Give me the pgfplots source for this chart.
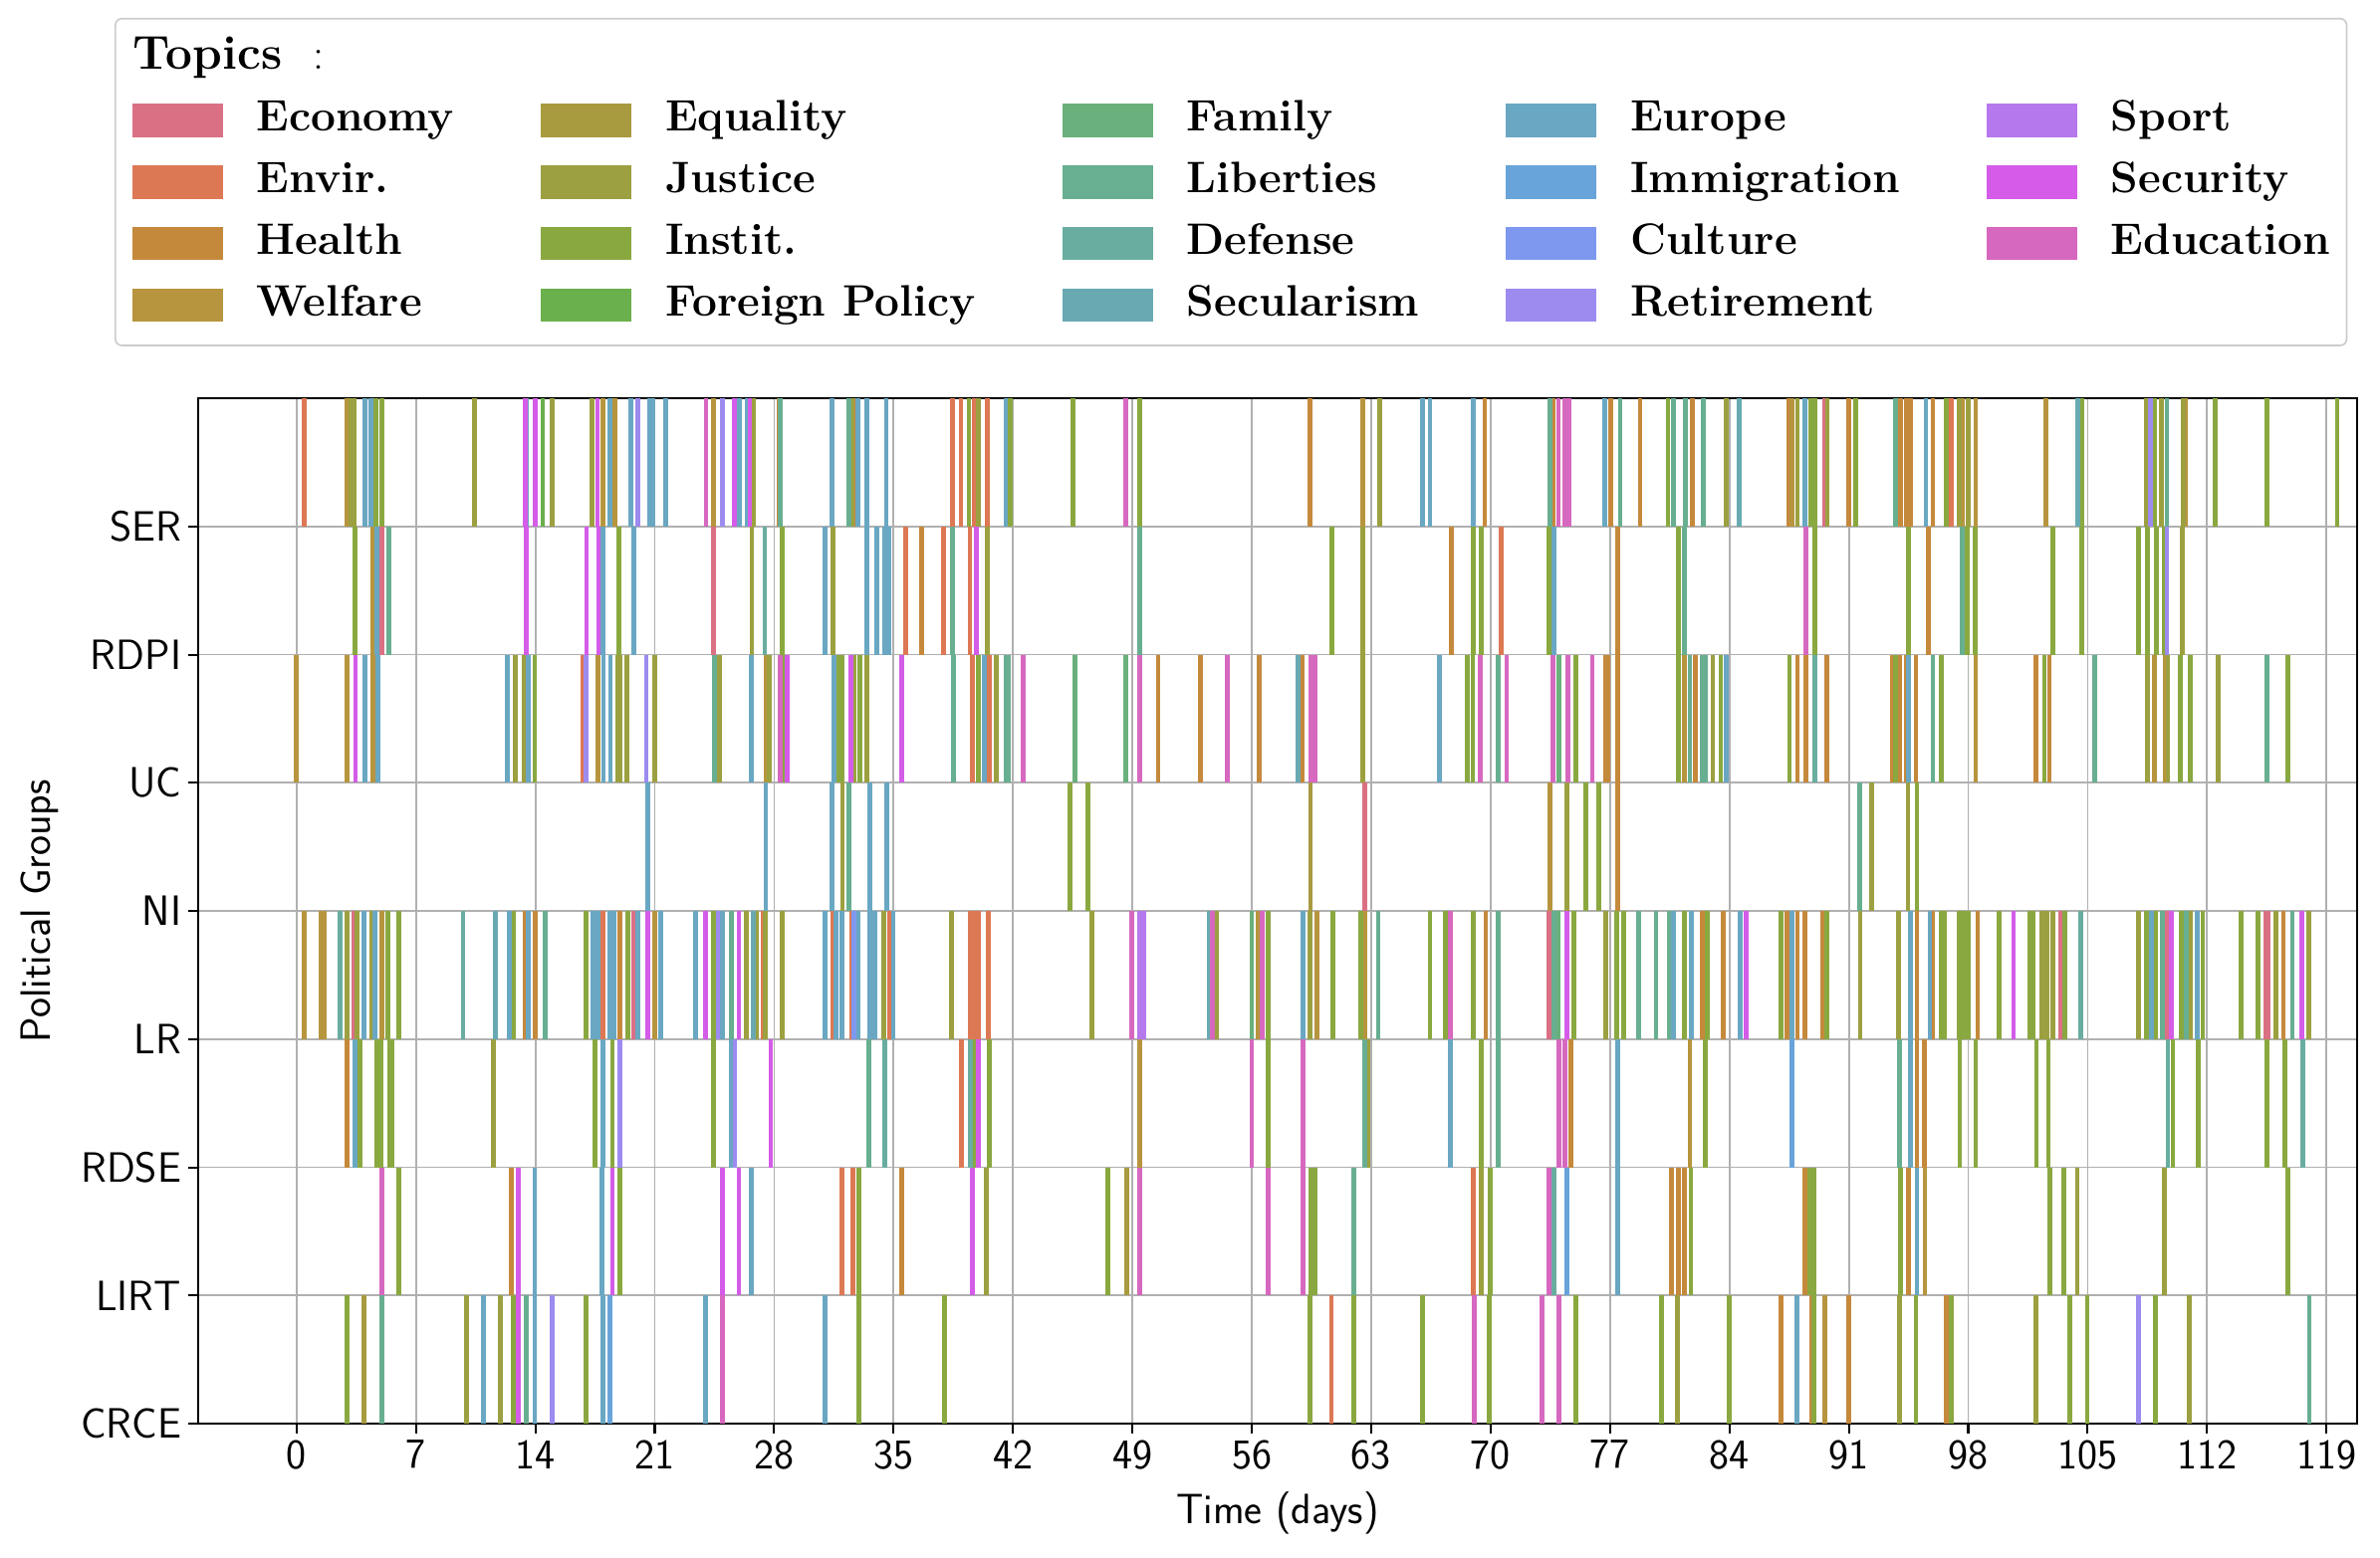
\documentclass[border=0pt]{standalone}
\usepackage{pgfplots}
\pgfplotsset{compat=1.18}
\definecolor{cEconomy}{RGB}{218,112,132}
\definecolor{cEnvir}{RGB}{221,120,84}
\definecolor{cHealth}{RGB}{197,137,60}
\definecolor{cWelfare}{RGB}{183,149,62}
\definecolor{cEquality}{RGB}{168,154,62}
\definecolor{cJustice}{RGB}{156,160,64}
\definecolor{cInstit}{RGB}{138,168,64}
\definecolor{cForeign}{RGB}{106,176,76}
\definecolor{cFamily}{RGB}{106,176,124}
\definecolor{cLiberties}{RGB}{104,174,144}
\definecolor{cDefense}{RGB}{105,173,160}
\definecolor{cSecularism}{RGB}{105,170,178}
\definecolor{cEurope}{RGB}{105,167,194}
\definecolor{cImmigration}{RGB}{104,164,218}
\definecolor{cCulture}{RGB}{126,152,240}
\definecolor{cRetirement}{RGB}{157,139,240}
\definecolor{cSport}{RGB}{182,120,237}
\definecolor{cSecurity}{RGB}{212,92,232}
\definecolor{cEducation}{RGB}{215,104,192}
\definecolor{gridgray}{RGB}{176,176,176}
\pgfplotsset{ev/.style={#1, line width=2.3bp, forget plot, quiver={u=0,v=1}}}
\begin{document}
\begin{tikzpicture}
\begin{axis}[
  scale only axis, width=1040.6bp, height=494.4bp,
  xmin=-5.77, xmax=120.8, ymin=0, ymax=8,
  xtick={0,7,...,119}, ytick={0,1,2,3,4,5,6,7},
  yticklabels={CRCE,LIRT,RDSE,LR,NI,UC,RDPI,SER},
  grid=major, major grid style={color=gridgray, line width=0.84bp},
  tick pos=left, tick align=outside, major tick length=4.6bp,
  tick style={black, line width=1bp},
  axis line style={line width=1.3bp},
  ticklabel style={font=\fontsize{20.5}{24}\selectfont\sffamily},
  /pgf/number format/assume math mode=true,
  xlabel={Time (days)}, ylabel={Political Groups},
  label style={font=\fontsize{20.5}{24}\selectfont\sffamily},
  xlabel style={yshift=-4bp}, ylabel style={yshift=4bp},
  legend image code/.code={\fill[#1, draw=none, sharp corners] (0bp,-8bp) rectangle (43.7bp,8bp);},
  legend columns=5, legend cell align=left,
  legend style={at={(-0.0387,1.3709)}, anchor=north west,
    draw=black!20, line width=0.8bp, rounded corners=3bp, fill=white,
    font=\fontsize{21.3}{25}\selectfont\bfseries,
    inner xsep=8bp, inner ysep=10bp, row sep=11bp,
    nodes={inner sep=0pt, text height=14.5bp, text depth=4.2bp},
    /tikz/every odd column/.append style={column sep=16.3bp},
    /tikz/every even column/.append style={column sep=41.8bp}},
]
\addplot[ev=cEconomy] table {
t g
5.0 6
24.44 6
3.38 3
19.75 3
62.61 4
73.4 3
89.6 7
103.4 3
109.65 3
115.43 3
115.6 3
};
\addplot[ev=cEnvir] table {
t g
0.47 7
16.78 5
17.95 3
38.44 7
38.95 7
39.73 7
40.5 7
35.7 6
37.93 6
39.48 6
39.62 5
40.59 5
27.35 3
31.44 3
32.55 3
34.75 3
39.52 3
39.77 3
39.99 3
40.55 3
38.97 2
31.97 1
32.6 1
70.61 6
69.0 1
60.67 0
96.99 7
};
\addplot[ev=cHealth] table {
t g
13.4 3
14.0 3
18.97 3
2.97 2
12.59 1
28.3 7
32.7 7
36.62 6
50.51 5
52.99 5
56.45 5
35.49 1
59.42 7
69.65 7
73.64 7
77.02 7
78.76 7
81.83 7
87.48 7
67.69 6
77.45 6
58.97 5
76.72 5
76.85 5
77.45 5
81.99 5
87.99 5
88.5 5
77.43 4
69.71 3
82.4 3
83.63 3
87.36 3
87.99 3
88.44 3
74.72 2
80.62 1
81.0 1
81.37 1
88.44 1
87.0 0
91.0 7
94.03 7
94.4 7
94.6 7
95.92 7
95.67 6
89.72 5
93.56 5
93.98 5
94.4 5
94.93 5
101.97 5
102.75 5
89.47 3
94.99 3
95.9 3
98.55 3
116.48 3
94.99 2
95.41 2
94.51 1
88.8 0
91.0 0
96.72 0
};
\addplot[ev=cWelfare] table {
t g
2.97 7
17.95 7
18.67 7
24.44 7
4.5 6
0 5
2.97 5
4.48 5
17.68 5
0.45 3
1.45 3
1.6 3
5.0 3
20.98 3
27.51 5
56.37 3
49.45 2
62.51 7
87.66 7
81.37 5
73.46 4
59.83 3
62.6 3
81.68 2
97.66 7
98.44 7
102.56 7
110.74 7
98.44 5
108.91 5
109.54 5
95.46 1
89.57 0
};
\addplot[ev=cEquality] table {
t g
3.97 0
48.67 1
59.44 4
};
\addplot[ev=cJustice] table {
t g
3.2 7
3.4 7
10.44 7
14.98 7
17.33 7
12.83 5
13.35 5
18.83 5
18.97 5
19.38 5
20.98 5
24.8 5
2.97 3
3.55 3
4.4 3
11.56 2
9.97 0
11.97 0
26.77 7
32.56 7
39.97 7
26.69 6
31.44 6
40.48 6
27.71 5
32.67 5
33.44 5
41.0 5
32.0 4
26.36 3
26.98 3
27.49 3
28.47 3
34.41 3
38.4 3
46.64 3
53.95 3
40.44 1
63.49 7
83.79 7
87.99 7
62.51 6
62.51 5
83.02 5
74.46 4
59.42 3
76.77 3
62.8 2
69.47 1
80.97 0
89.74 7
97.45 7
97.98 7
108.43 7
109.33 7
110.6 7
110.55 6
108.49 5
109.7 5
112.65 5
92.35 4
94.47 4
91.67 3
93.92 3
102.3 3
102.6 3
102.98 3
108.0 3
111.01 3
116.02 3
117.95 3
104.39 1
109.48 1
93.98 0
101.97 0
110.97 0
};
\addplot[ev=cInstit] table {
t g
4.65 7
5.0 7
3.42 6
18.9 6
13.96 5
5.36 3
5.98 3
12.73 3
16.97 3
19.42 3
24.44 3
3.72 2
4.7 2
4.95 2
5.46 2
5.6 2
17.48 2
18.52 2
24.46 2
5.98 1
18.97 1
2.97 0
12.69 0
16.97 0
39.42 7
41.82 7
45.5 7
49.41 7
28.47 6
28.47 5
31.8 5
31.95 5
33.03 5
39.97 5
45.36 4
46.38 4
56.96 3
39.7 2
40.59 2
56.98 2
32.97 1
47.57 1
32.97 0
37.99 0
80.4 7
88.75 7
89.0 7
60.71 6
69.0 6
69.47 6
73.44 6
81.0 6
89.0 6
68.63 5
68.96 5
75.0 5
81.0 5
83.49 5
87.52 5
75.6 4
76.36 4
60.77 3
62.39 3
66.44 3
67.36 3
69.0 3
74.89 3
77.39 3
77.8 3
81.37 3
82.7 3
87.0 3
69.47 2
82.6 2
59.48 1
59.7 1
69.98 1
81.74 1
88.71 1
88.95 1
59.42 0
62.0 0
65.99 0
69.92 0
75.0 0
80.01 0
84.0 0
88.97 0
91.4 7
96.72 7
104.66 7
108.91 7
112.48 7
115.49 7
119.63 7
94.51 6
97.92 6
98.4 6
102.98 6
104.64 6
108.0 6
108.49 6
109.02 6
109.48 6
93.73 5
96.44 5
102.46 5
110.42 5
111.01 5
116.73 5
94.99 4
89.72 3
96.4 3
96.61 3
97.45 3
97.77 3
97.98 3
99.83 3
101.6 3
101.8 3
103.65 3
108.45 3
109.0 3
110.49 3
111.75 3
114.0 3
115.0 3
97.5 2
98.44 2
102.0 2
102.7 2
110.0 2
111.48 2
115.49 2
116.58 2
94.03 1
102.77 1
103.61 1
116.73 1
94.93 0
96.99 0
103.97 0
104.98 0
108.97 0
};
\addplot[ev=cForeign] table {
t g
14.43 7
};
\addplot[ev=cFamily] table {
t g
45.62 5
48.63 5
56.0 3
74.0 5
73.97 3
};
\addplot[ev=cLiberties] table {
t g
5.4 6
24.5 5
14.57 3
25.5 3
4.99 0
13.49 0
28.37 7
32.36 7
38.44 6
49.45 6
38.5 5
41.57 5
41.71 5
32.4 4
33.53 2
73.46 7
77.59 7
80.7 7
81.42 7
82.46 7
81.38 6
70.43 5
81.68 5
82.4 5
82.6 5
63.41 3
70.43 3
73.7 3
78.68 3
79.7 3
80.46 3
62.6 2
70.43 2
62.0 1
93.73 7
109.65 7
97.66 6
95.92 5
105.4 5
115.49 5
91.63 4
109.4 3
110.8 3
117.0 3
93.98 2
117.99 0
};
\addplot[ev=cDefense] table {
t g
2.56 3
9.76 3
27.45 6
34.5 2
39.52 2
89.0 5
73.7 1
104.6 3
109.7 2
117.59 2
};
\addplot[ev=cSecularism] table {
t g
11.67 3
26.77 3
53.48 3
84.55 7
58.7 5
104.43 7
};
\addplot[ev=cEurope] table {
t g
3.99 7
4.38 7
13.5 7
18.36 7
19.6 7
20.7 7
20.9 7
21.63 7
25.95 7
4.69 6
17.95 6
19.75 6
4.0 5
4.75 5
12.38 5
13.6 5
17.99 5
18.4 5
20.6 4
3.97 3
4.6 3
12.48 3
13.6 3
17.38 3
17.68 3
18.36 3
18.62 3
20.0 3
21.37 3
23.37 3
24.97 3
3.42 2
17.95 2
25.5 2
13.96 1
17.91 1
10.95 0
13.96 0
17.95 0
23.98 0
26.42 7
31.4 7
32.9 7
33.44 7
34.57 7
41.57 7
30.99 6
33.44 6
34.0 6
34.45 6
34.71 6
26.67 5
31.5 5
40.34 5
27.51 4
31.4 4
33.59 4
34.61 4
30.97 3
31.64 3
31.95 3
32.91 3
33.59 3
33.9 3
34.98 3
26.67 1
30.99 0
65.99 7
66.44 7
69.0 7
76.71 7
88.44 7
73.7 6
66.99 5
83.79 5
59.0 3
80.72 3
81.78 3
84.61 3
87.65 3
67.63 2
77.45 2
77.45 1
87.98 0
95.52 7
94.51 5
94.62 3
95.75 3
108.74 3
111.43 3
94.62 2
94.99 1
};
\addplot[ev=cImmigration] table {
t g
18.36 0
87.65 2
74.48 1
};
\addplot[ev=cCulture] table {
t g
32.67 3
};
\addplot[ev=cRetirement] table {
t g
20.0 7
24.97 7
16.96 5
20.5 5
24.7 3
18.97 2
25.7 2
14.98 0
108.66 7
109.65 6
108.0 0
};
\addplot[ev=cSport] table {
t g
49.41 3
49.65 3
};
\addplot[ev=cSecurity] table {
t g
13.4 7
14.0 7
17.64 7
25.67 7
13.45 6
17.0 6
17.7 6
3.46 5
20.57 3
23.98 3
25.93 3
13.0 1
18.52 1
24.97 1
25.93 1
13.0 0
26.57 7
39.87 6
28.78 5
32.5 5
35.49 5
27.8 2
39.97 2
39.62 1
74.48 3
85.0 3
100.65 3
109.9 3
117.57 3
};
\addplot[ev=cEducation] table {
t g
24.0 7
5.0 1
24.95 0
48.63 7
28.37 5
42.59 5
49.45 5
54.57 5
48.98 3
53.7 3
56.6 3
56.0 2
49.45 1
56.98 1
73.97 7
74.35 7
74.6 7
88.5 6
59.44 5
59.69 5
69.4 5
70.94 5
73.66 5
74.52 5
75.96 5
67.65 3
59.0 2
74.0 2
74.37 2
59.0 1
73.4 1
69.04 0
72.99 0
74.0 0
};
% legend: title row then row-major entries
\addlegendimage{empty legend}
\addlegendentry{\makebox[0pt][l]{\hspace*{-60bp}{\fontsize{23}{26}\selectfont Topics}\hspace{15bp}\mdseries:}}
\addlegendimage{empty legend}\addlegendentry{\mbox{}}
\addlegendimage{empty legend}\addlegendentry{\mbox{}}
\addlegendimage{empty legend}\addlegendentry{\mbox{}}
\addlegendimage{empty legend}\addlegendentry{\mbox{}}
\addlegendimage{fill=cEconomy}\addlegendentry{Economy}
\addlegendimage{fill=cEquality}\addlegendentry{Equality}
\addlegendimage{fill=cFamily}\addlegendentry{Family}
\addlegendimage{fill=cEurope}\addlegendentry{Europe}
\addlegendimage{fill=cSport}\addlegendentry{Sport}
\addlegendimage{fill=cEnvir}\addlegendentry{Envir.}
\addlegendimage{fill=cJustice}\addlegendentry{Justice}
\addlegendimage{fill=cLiberties}\addlegendentry{Liberties}
\addlegendimage{fill=cImmigration}\addlegendentry{Immigration}
\addlegendimage{fill=cSecurity}\addlegendentry{Security}
\addlegendimage{fill=cHealth}\addlegendentry{Health}
\addlegendimage{fill=cInstit}\addlegendentry{Instit.}
\addlegendimage{fill=cDefense}\addlegendentry{Defense}
\addlegendimage{fill=cCulture}\addlegendentry{Culture}
\addlegendimage{fill=cEducation}\addlegendentry{Education}
\addlegendimage{fill=cWelfare}\addlegendentry{Welfare}
\addlegendimage{fill=cForeign}\addlegendentry{Foreign Policy}
\addlegendimage{fill=cSecularism}\addlegendentry{Secularism}
\addlegendimage{fill=cRetirement}\addlegendentry{Retirement}
\end{axis}
\pgfresetboundingbox
\path[use as bounding box] ([xshift=-95.5bp,yshift=-64.3bp]current axis.south west) rectangle ([xshift=11bp,yshift=192bp]current axis.north east);
\end{tikzpicture}
\end{document}
